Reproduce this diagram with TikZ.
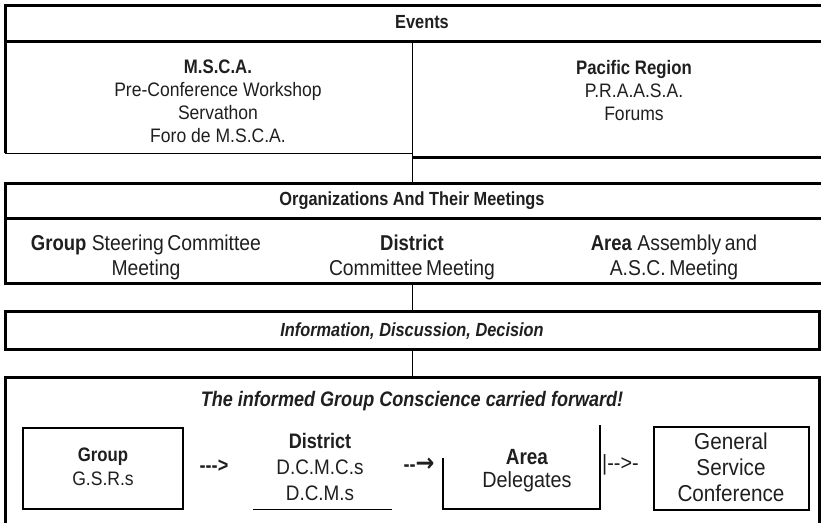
\documentclass[tikz,border=0pt]{standalone}
\usepackage{fontspec}
\setmainfont{Liberation Sans}[FakeStretch=0.9, BoldFeatures={FakeStretch=0.86}, BoldItalicFeatures={FakeStretch=0.86}]
\newfontfamily\arrowfont{DejaVu Sans}[FakeStretch=0.9]
\begin{document}
\begin{tikzpicture}[x=1pt,y=-1pt,
  thickline/.style={line width=3pt},
  thinline/.style={line width=1pt},
  midline/.style={line width=1.6pt},
  txt/.style={inner sep=0pt, align=center, text=black!88, font=\fontsize{19.5}{23}\selectfont},
  txtrow/.style={txt, font=\fontsize{21.5}{25}\selectfont},
  txtg/.style={txt, font=\fontsize{19.5}{24}\selectfont},
  txtd/.style={txt, font=\fontsize{21}{26}\selectfont},
  txta/.style={txt, font=\fontsize{22}{23.5}\selectfont},
  txtc/.style={txt, font=\fontsize{23}{26}\selectfont},
  arr/.style={txt, font=\fontsize{21}{23}\selectfont\bfseries},
  hd/.style={txt, font=\fontsize{19}{23}\selectfont\bfseries},
  hdi/.style={txt, font=\fontsize{19}{23}\selectfont\bfseries\itshape},
  hdt/.style={txt, font=\fontsize{21}{23}\selectfont\bfseries\itshape}]
\useasboundingbox (0,0) rectangle (821,522);
% ---------- Events ----------
\draw[thickline] (870,5) -- (5,5) -- (5,153);
\draw[thickline] (5,41) -- (870,41);
\draw[thinline] (5,153) -- (412,153);
\draw[thickline] (412,157) -- (870,157);
\node[hd] (events) at (422,22) {Events};
\node[txt, anchor=north] (msca) at (218,60) {\textbf{M.S.C.A.}\\Pre-Conference Workshop\\Servathon\\Foro de M.S.C.A.};
\node[txt, anchor=north] (pacific) at (634,60) {\textbf{Pacific Region}\\P.R.A.A.S.A.\\Forums};
% ---------- Organizations ----------
\draw[thickline] (870,183) -- (5,183) -- (5,283) -- (870,283);
\draw[thickline] (5,218) -- (870,218);
\node[hd] (orgs) at (412,201) {Organizations And Their Meetings};
\node[txtrow, anchor=north] (grp) at (146,235) {\textbf{Group} Steering\,Committee\\Meeting};
\node[txtrow, anchor=north] (dist) at (412,235) {\textbf{District}\\Committee\,Meeting};
\node[txtrow, anchor=north] (area) at (674,235) {\textbf{Area} Assembly\,and\\A.S.C.\,Meeting};
% ---------- Information ----------
\draw[thickline] (5,311) rectangle (819,349);
\node[hdi] (info) at (412,331) {Information, Discussion, Decision};
% ---------- Group conscience ----------
\draw[thickline] (5,530) -- (5,377) -- (819,377) -- (819,530);
\node[hdt] (title) at (412,401) {The informed Group Conscience carried forward!};
% connectors
\coordinate (c1) at (412,41);
\coordinate (c2) at (412,183);
\coordinate (c3) at (412,283);
\coordinate (c4) at (412,311);
\coordinate (c5) at (412,349);
\coordinate (c6) at (412,377);
\draw[thinline] (c1) -- (c2);
\draw[thinline] (c3) -- (c4);
\draw[thinline] (c5) -- (c6);
% inner row
\draw[midline] (23,428) rectangle (183,509);
\node[txtg, anchor=north] (gsr) at (103,448) {\textbf{Group}\\G.S.R.s};
\node[arr] (a1) at (214,466) {-{}-{}->};
\node[txtd, anchor=north] (dcm) at (320,433.5) {\textbf{District}\\D.C.M.C.s\\D.C.M.s};
\draw[thinline] (253,509) -- (392,509);
\node[arr] (a2) at (419,465) {-{}-{\arrowfont\fontsize{25}{25}\selectfont\bfseries →}};
\draw[midline] (443,458) -- (443,509) -- (600,509) -- (600,425);
\node[txta, anchor=north] (del) at (527,449) {\textbf{Area}\\Delegates};
\node[txt, anchor=west, font=\fontsize{22}{23}\selectfont] (a3) at (602,465) {|-{}->-};
\draw[line width=2.5pt] (654,427) rectangle (809,510);
\node[txtc, anchor=north] (gsc) at (731,433) {General\\Service\\Conference};
\end{tikzpicture}
\end{document}
